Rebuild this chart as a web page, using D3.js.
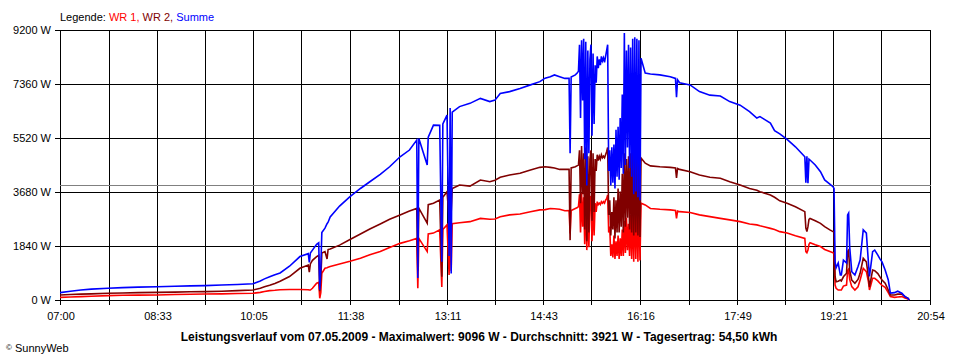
<!DOCTYPE html>
<html>
<head>
<meta charset="utf-8">
<script src="https://cdn.jsdelivr.net/npm/d3@7"></script>
<style>
  html, body { margin: 0; padding: 0; background: #fff; }
  svg { display: block; }
  text { font-family: "Liberation Sans", Arial, sans-serif; }
</style>
</head>
<body>
<svg id="chart" width="960" height="360"></svg>
<script>
// ---------------- data ----------------
const legendLabel = "Legende: ";
const seriesNames = ["WR 1", "WR 2", "Summe"];
const seriesColors = ["#ff0000", "#800000", "#0000ff"];
const xTickLabels = ["07:00","08:33","10:05","11:38","13:11","14:43","16:16","17:49","19:21","20:54"];
const yTickValues = [0, 1840, 3680, 5520, 7360, 9200];
const averageValue = 3921;
const footerText = "Leistungsverlauf vom 07.05.2009 - Maximalwert: 9096 W - Durchschnitt: 3921 W - Tagesertrag: 54,50 kWh";
const copyrightText = "SunnyWeb";

const times = [
  // 07:00 - 10:05
  "07:00","07:10","07:20","07:30","07:46","08:00","08:15","08:33","08:50","09:05","09:19","09:35","09:50","10:05",
  // 10:12 - 11:19
  "10:12","10:16","10:21","10:26","10:31","10:40","10:50","10:58","10:59","11:00","11:02","11:06","11:08","11:09","11:10","11:11","11:14","11:16","11:17","11:19",
  // 11:28 - 13:16
  "11:28","11:38","11:48","11:57","12:07","12:16","12:26","12:35","12:42","12:43","12:44","12:52","12:53","12:58","13:04","13:06","13:07","13:11","13:13","13:14","13:15","13:16",
  // 13:23 - 15:17
  "13:23","13:33","13:43","13:52","13:57","14:02","14:11","14:21","14:31","14:40","14:45","14:50","14:54","14:59","15:04","15:08","15:09","15:10","15:14","15:16","15:17",
  // 15:18 - 16:17
  "15:18","15:19","15:20","15:21","15:22","15:23","15:24","15:25","15:26","15:27","15:28","15:29","15:30","15:31","15:32","15:33","15:34","15:35","15:36","15:37",
  "15:38","15:39","15:40","15:41","15:42","15:43","15:44","15:45","15:46","15:47","15:48","15:49","15:50","15:51","15:52","15:53","15:54","15:55","15:56","15:57",
  "15:58","15:59","16:00","16:01","16:02","16:03","16:04","16:05","16:06","16:07","16:08","16:09","16:10","16:11","16:12","16:13","16:14","16:15","16:16","16:17",
  // 16:21 - 19:22
  "16:21","16:26","16:35","16:45","16:50","16:51","16:52","16:54","17:04","17:13","17:23","17:33","17:42","17:52","18:01","18:08","18:11","18:21","18:25","18:30","18:37","18:45","18:54","18:55","18:56","18:57","18:58","18:59","19:04","19:09","19:13","19:18","19:21","19:22",
  // 19:23 - 20:34
  "19:23","19:24","19:26","19:28","19:29","19:31","19:34","19:35","19:36","19:37","19:39","19:42","19:45","19:47","19:50","19:53","19:55","19:56","19:59","20:01","20:04","20:06","20:08","20:11","20:14","20:16","20:20","20:23","20:27","20:30","20:33","20:34"
];

const summe = [
  250,300,340,370,400,420,440,450,470,480,490,510,530,555,
  650,720,790,860,920,1150,1480,1580,1280,1600,1700,1900,1950,350,1100,2300,2450,2600,2650,2830,
  3200,3520,3800,4030,4280,4540,4880,5110,5450,750,5500,4600,5550,5960,5950,1300,6000,6300,1500,6540,900,6400,
  6590,6700,6870,6760,6810,7040,7100,7210,7330,7440,7560,7610,7670,7610,7550,7550,5000,7600,7670,7740,7800,
  8700,6200,8850,6800,8900,4800,8800,3900,8500,5000,8200,8700,5600,8400,6000,8000,7400,8300,7900,8200,
  8000,8300,8150,8250,8100,8300,8500,8700,4400,5100,3900,5200,4000,5300,3800,5800,4200,5900,4100,6200,
  4500,7000,4300,9096,4600,8500,5200,8700,4500,8600,4200,8900,3600,8950,3700,8900,3500,8850,3400,8240,
  7730,7700,7670,7610,7550,6910,7500,7400,7330,7100,6980,6950,6760,6640,6420,6200,6250,6030,5770,5660,5470,5220,4880,4000,4900,3980,4800,4770,4600,4370,4090,3950,3860,3800,
  1300,1100,1260,850,850,1360,1260,2900,2960,1810,965,850,1140,1360,2390,2280,1260,800,1650,1700,1530,1400,1300,1020,680,235,250,300,230,115,55,0
];

const wr2 = [
  170,185,200,210,230,240,250,260,270,280,285,300,320,340,
  400,450,500,560,640,800,1080,1190,950,1230,1350,1480,1520,300,700,1600,1650,1400,1720,1740,
  1870,2060,2250,2420,2590,2750,2900,3030,3120,1000,3130,2620,3250,3300,3410,790,3500,3690,2800,3750,3000,3800,
  3920,3880,4090,4030,4080,4180,4260,4320,4430,4520,4540,4520,4500,4450,4450,4450,2040,4500,4540,4580,4600,
  5100,3300,5250,3600,5000,2400,5200,2000,4900,2300,4800,5100,2700,5000,3000,4800,4400,4950,4750,4900,
  4800,4950,4850,4900,4850,4950,5050,5200,2900,3400,2200,3000,2400,3500,2100,3400,2300,3800,2300,3700,
  2500,4300,2300,5000,2500,4800,2800,4900,2400,5000,2300,5100,2200,5200,2300,5150,2200,5300,2150,4840,
  4660,4570,4540,4520,4500,4160,4480,4450,4370,4260,4180,4150,4030,3920,3800,3740,3690,3580,3500,3380,3300,3180,3010,2450,2330,2500,2750,2780,2700,2610,2500,2390,2330,2320,
  800,620,640,680,650,790,910,1650,1700,1020,680,570,700,910,1420,1300,790,450,1020,1000,900,790,680,570,340,170,170,200,200,115,60,0
];

const wr1 = [
  90,100,115,130,150,160,165,170,185,195,205,210,220,230,
  260,290,320,330,350,360,360,350,340,340,400,570,600,60,250,910,1080,1100,1120,1140,
  1230,1320,1420,1540,1650,1790,1930,2020,2100,400,2100,1650,2250,2280,2390,440,2400,2560,850,2610,1000,2600,
  2630,2670,2780,2750,2760,2840,2900,2930,3010,3070,3080,3120,3110,3090,3040,3050,2270,3050,3120,3150,3180,
  3600,2300,3650,2500,3500,1900,3600,1700,3300,1800,3400,3550,2000,3400,2200,3300,3000,3350,3250,3300,
  3250,3350,3300,3350,3300,3400,3450,3580,2300,2500,1500,1900,1450,2200,1400,2000,1500,2200,1400,2100,
  1500,2400,1500,2700,1600,2800,1700,2600,1500,2900,1400,3200,1300,3400,1400,3300,1300,3470,1350,3300,
  3240,3120,3090,3070,3050,2780,3030,3010,2980,2900,2840,2780,2730,2670,2590,2560,2530,2440,2400,2330,2280,2190,2100,1650,1610,1700,1900,1950,1880,1820,1720,1650,1610,1590,
  510,400,340,340,340,475,510,1000,1050,700,455,340,450,680,1080,965,620,340,740,740,650,570,500,430,250,115,90,100,115,70,35,0
];

// ---------------- chart ----------------
(function () {
  const toMin = s => { const [h, m] = s.split(":").map(Number); return h * 60 + m; };
  const svg = d3.select("#chart");
  const pL = 60, pR = 930, pT = 30, pB = 300;

  const x = d3.scaleLinear()
    .domain([toMin(xTickLabels[0]), toMin(xTickLabels[xTickLabels.length - 1])])
    .range([pL, pR]);
  const y = d3.scaleLinear().domain([0, d3.max(yTickValues)]).range([pB, pT]);

  // vertical grid lines (labelled ticks + midpoints)
  const labelTimes = xTickLabels.map(toMin);
  const gridTimes = [];
  labelTimes.forEach((t, i) => {
    gridTimes.push(t);
    if (i < labelTimes.length - 1) gridTimes.push((t + labelTimes[i + 1]) / 2);
  });
  const grid = svg.append("g").attr("shape-rendering", "crispEdges");
  grid.selectAll("line.v").data(gridTimes).join("line").attr("class", "v")
    .attr("x1", d => Math.round(x(d)) + 0.5).attr("x2", d => Math.round(x(d)) + 0.5)
    .attr("y1", pT).attr("y2", pB + 5)
    .attr("stroke", "#000").attr("stroke-width", 1);
  grid.selectAll("line.h").data(yTickValues).join("line").attr("class", "h")
    .attr("x1", pL - 5).attr("x2", pR + 1)
    .attr("y1", d => Math.round(y(d)) + 0.5).attr("y2", d => Math.round(y(d)) + 0.5)
    .attr("stroke", "#000").attr("stroke-width", 1);

  // average line
  svg.append("line")
    .attr("shape-rendering", "crispEdges")
    .attr("x1", pL).attr("x2", pR + 1)
    .attr("y1", Math.round(y(averageValue)) + 0.5).attr("y2", Math.round(y(averageValue)) + 0.5)
    .attr("stroke", "#808080").attr("stroke-width", 1);

  // axis labels
  svg.append("g").selectAll("text").data(yTickValues).join("text")
    .attr("x", 51).attr("y", d => y(d) + 4)
    .attr("text-anchor", "end").attr("font-size", 11).attr("fill", "#000")
    .text(d => d + " W");
  svg.append("g").selectAll("text").data(xTickLabels).join("text")
    .attr("x", d => x(toMin(d)) + 1).attr("y", 320)
    .attr("text-anchor", "middle").attr("font-size", 11).attr("fill", "#000")
    .text(d => d);

  // series lines
  const tMin = times.map(toMin);
  const seriesData = [wr1, wr2, summe];
  const line = d3.line().x((d, i) => x(tMin[i])).y(d => y(d));
  svg.append("g").selectAll("path").data(seriesData).join("path")
    .attr("d", d => line(d))
    .attr("fill", "none")
    .attr("stroke", (d, i) => seriesColors[i])
    .attr("stroke-width", 1.6)
    .attr("stroke-linejoin", "miter");

  // legend
  const leg = svg.append("text").attr("x", 60).attr("y", 21).attr("font-size", 11);
  leg.append("tspan").attr("fill", "#000").text(legendLabel);
  seriesNames.forEach((n, i) => {
    leg.append("tspan").attr("fill", seriesColors[i]).text(n + (i < seriesNames.length - 1 ? ", " : ""));
  });

  // footer
  svg.append("text").attr("x", 479).attr("y", 341)
    .attr("text-anchor", "middle").attr("font-size", 12).attr("font-weight", "bold")
    .text(footerText);
  const cp = svg.append("text").attr("x", 6).attr("y", 352).attr("font-size", 11);
  cp.append("tspan").attr("font-size", 8).attr("dy", -2).text("©");
  cp.append("tspan").attr("dy", 2).text(" " + copyrightText);
})();
</script>
</body>
</html>
